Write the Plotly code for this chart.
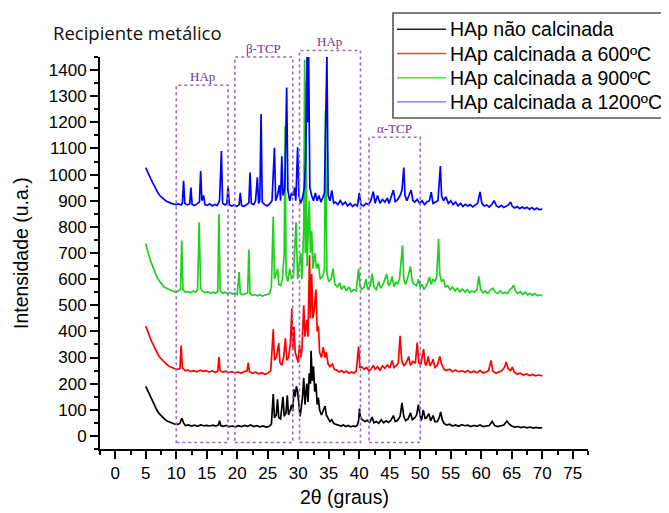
import plotly.graph_objects as go

# ---------------- data ----------------
series_names = ["HAp não calcinada", "HAp calcinada a 600ºC",
                "HAp calcinada a 900ºC", "HAp calcinada a 1200ºC"]

black_pts = [
    (5.0, 190), (5.3, 175), (5.6, 160), (5.9, 140), (6.2, 128), (6.5, 112), (6.8, 100), (7.1, 88),
    (7.4, 80), (7.7, 72), (8.0, 66), (8.3, 60), (8.6, 56), (9.0, 52), (9.4, 48), (9.8, 45),
    (10.2, 44), (10.6, 48), (10.9, 68), (11.2, 50), (11.5, 40), (12.0, 42), (12.5, 38), (13.0, 41),
    (13.5, 37), (14.0, 42), (14.5, 39), (15.0, 40), (15.5, 38), (16.0, 41), (16.5, 38), (16.9, 42),
    (17.1, 58), (17.3, 40), (17.7, 37), (18.2, 40), (18.7, 36), (19.2, 38), (19.7, 35), (20.2, 39),
    (20.7, 36), (21.2, 40), (21.7, 37), (22.2, 42), (22.7, 36), (23.2, 39), (23.7, 35), (24.2, 38),
    (24.7, 34), (25.2, 36), (25.6, 45), (25.9, 160), (26.1, 70), (26.4, 80), (26.6, 140), (26.8, 70),
    (27.1, 65), (27.5, 150), (27.7, 75), (28.0, 90), (28.2, 155), (28.4, 80), (28.7, 100), (28.9, 120),
    (29.1, 95), (29.3, 178), (29.5, 150), (29.7, 190), (29.9, 170), (30.1, 120), (30.3, 75), (30.5, 110),
    (30.7, 150), (30.9, 222), (31.1, 120), (31.4, 200), (31.6, 130), (31.8, 240), (32.0, 200), (32.1, 326),
    (32.3, 210), (32.5, 266), (32.7, 170), (32.9, 200), (33.1, 120), (33.3, 146), (33.5, 100), (33.8, 80),
    (34.1, 100), (34.4, 114), (34.6, 80), (34.9, 65), (35.2, 55), (35.5, 62), (35.8, 48), (36.2, 44),
    (36.6, 40), (37.0, 38), (37.4, 42), (37.8, 36), (38.2, 40), (38.6, 35), (39.0, 38), (39.4, 36),
    (39.7, 42), (39.9, 60), (40.05, 105), (40.2, 70), (40.5, 62), (40.9, 55), (41.3, 60), (41.7, 52),
    (42.1, 72), (42.4, 50), (42.8, 55), (43.2, 48), (43.6, 62), (44.0, 50), (44.4, 58), (44.8, 52),
    (45.2, 60), (45.6, 78), (45.9, 55), (46.3, 60), (46.7, 75), (47.0, 127), (47.3, 75), (47.6, 58),
    (48.0, 65), (48.4, 88), (48.7, 62), (49.1, 70), (49.4, 80), (49.7, 120), (50.0, 75), (50.2, 60),
    (50.5, 100), (50.8, 65), (51.1, 72), (51.4, 85), (51.7, 58), (52.1, 78), (52.4, 55), (52.8, 55),
    (53.1, 70), (53.35, 92), (53.6, 62), (53.9, 48), (54.3, 42), (54.8, 45), (55.3, 38), (55.8, 42),
    (56.3, 37), (56.8, 43), (57.3, 39), (57.8, 41), (58.3, 36), (58.8, 40), (59.3, 37), (59.8, 42),
    (60.3, 36), (60.8, 38), (61.3, 40), (61.8, 55), (62.2, 40), (62.7, 36), (63.2, 38), (63.7, 42),
    (64.2, 57), (64.6, 45), (65.0, 38), (65.5, 34), (66.0, 36), (66.5, 32), (67.0, 35), (67.5, 31),
    (68.0, 34), (68.5, 30), (69.0, 33), (69.5, 30), (70.0, 32),
]

red_pts = [
    (5.0, 420), (5.3, 400), (5.6, 385), (5.9, 365), (6.2, 350), (6.5, 335), (6.8, 320), (7.1, 308),
    (7.4, 298), (7.7, 290), (8.0, 282), (8.3, 276), (8.6, 270), (9.0, 265), (9.4, 260), (9.8, 257),
    (10.2, 255), (10.6, 258), (10.8, 346), (11.0, 262), (11.4, 250), (11.9, 252), (12.4, 246), (12.9, 250),
    (13.4, 245), (13.9, 252), (14.4, 247), (14.9, 250), (15.4, 244), (15.9, 249), (16.4, 243), (16.8, 248),
    (17.0, 302), (17.2, 250), (17.6, 244), (18.1, 248), (18.6, 242), (19.1, 246), (19.6, 241), (20.1, 245),
    (20.6, 240), (21.1, 246), (21.6, 248), (21.8, 281), (22.0, 246), (22.5, 240), (23.0, 244), (23.5, 238),
    (24.0, 242), (24.5, 236), (25.0, 240), (25.5, 250), (25.9, 408), (26.1, 290), (26.4, 300), (26.8, 355),
    (27.0, 280), (27.3, 270), (27.6, 300), (27.9, 374), (28.1, 290), (28.4, 300), (28.7, 350), (28.95, 488),
    (29.1, 330), (29.3, 418), (29.5, 320), (29.8, 300), (30.0, 280), (30.2, 350), (30.4, 300), (30.6, 330),
    (30.9, 500), (31.1, 380), (31.4, 444), (31.6, 380), (31.85, 691), (32.0, 450), (32.2, 620), (32.4, 450),
    (32.6, 480), (32.9, 560), (33.1, 400), (33.3, 420), (33.5, 320), (33.8, 300), (34.1, 340), (34.4, 300),
    (34.6, 320), (34.9, 275), (35.2, 265), (35.6, 275), (35.9, 255), (36.3, 252), (36.7, 245), (37.1, 250),
    (37.5, 242), (37.9, 248), (38.3, 240), (38.7, 245), (39.1, 240), (39.5, 248), (39.9, 342), (40.1, 260),
    (40.4, 265), (40.8, 255), (41.2, 262), (41.6, 248), (42.0, 258), (42.3, 270), (42.6, 255), (43.0, 265),
    (43.4, 252), (43.8, 268), (44.2, 258), (44.6, 272), (45.0, 260), (45.4, 289), (45.7, 262), (46.1, 270),
    (46.4, 280), (46.7, 383), (46.95, 290), (47.3, 268), (47.7, 280), (48.1, 304), (48.4, 270), (48.8, 285),
    (49.2, 278), (49.5, 357), (49.75, 280), (50.1, 275), (50.55, 332), (50.8, 275), (51.0, 270), (51.3, 304),
    (51.6, 268), (51.9, 280), (52.1, 293), (52.4, 262), (52.8, 270), (53.2, 304), (53.5, 275), (53.9, 255),
    (54.3, 250), (54.8, 255), (55.3, 246), (55.8, 252), (56.3, 245), (56.8, 250), (57.3, 244), (57.8, 250),
    (58.3, 243), (58.8, 248), (59.3, 242), (59.8, 250), (60.3, 241), (60.8, 245), (61.2, 250), (61.6, 289),
    (61.9, 248), (62.4, 240), (62.9, 244), (63.4, 250), (63.8, 262), (64.1, 283), (64.4, 258), (64.8, 250),
    (65.1, 264), (65.4, 245), (65.9, 236), (66.4, 240), (66.9, 233), (67.4, 237), (67.9, 231), (68.4, 235),
    (68.9, 230), (69.4, 233), (70.0, 230),
]

green_pts = [
    (5.0, 736), (5.2, 715), (5.5, 690), (5.8, 670), (6.1, 650), (6.4, 630), (6.7, 615), (7.0, 600),
    (7.3, 590), (7.6, 580), (8.0, 570), (8.4, 565), (8.8, 560), (9.2, 556), (9.6, 553), (10.0, 550),
    (10.4, 555), (10.7, 560), (10.9, 748), (11.1, 560), (11.5, 550), (12.0, 552), (12.4, 548), (12.8, 555),
    (13.2, 550), (13.5, 560), (13.75, 818), (14.0, 565), (14.3, 555), (14.7, 548), (15.2, 552), (15.6, 545),
    (16.0, 550), (16.4, 546), (16.8, 552), (17.0, 849), (17.2, 555), (17.6, 546), (18.0, 550), (18.4, 545),
    (18.8, 548), (19.2, 543), (19.6, 547), (20.0, 542), (20.3, 627), (20.5, 545), (20.9, 540), (21.3, 543),
    (21.7, 548), (21.9, 712), (22.1, 545), (22.5, 538), (22.9, 541), (23.3, 536), (23.7, 540), (24.1, 535),
    (24.5, 538), (24.9, 540), (25.3, 545), (25.6, 570), (25.9, 839), (26.1, 600), (26.4, 620), (26.6, 640),
    (26.8, 580), (27.1, 575), (27.4, 600), (27.7, 700), (27.85, 1185), (28.0, 620), (28.3, 590), (28.6, 640),
    (28.9, 600), (29.2, 610), (29.65, 818), (29.9, 600), (30.1, 650), (30.4, 700), (30.6, 600), (30.9, 800),
    (31.05, 1440), (31.15, 700), (31.25, 1356), (31.45, 650), (31.8, 900), (32.0, 700), (32.2, 785), (32.4, 640),
    (32.7, 700), (33.0, 640), (33.3, 660), (33.6, 600), (34.0, 610), (34.3, 640), (34.45, 1245), (34.7, 620),
    (35.0, 590), (35.4, 600), (35.7, 640), (36.0, 580), (36.4, 570), (36.8, 585), (37.1, 560), (37.5, 575),
    (37.9, 555), (38.3, 570), (38.7, 552), (39.1, 560), (39.5, 555), (39.9, 640), (40.1, 575), (40.4, 560),
    (40.8, 570), (41.1, 600), (41.4, 560), (41.8, 575), (42.1, 620), (42.4, 570), (42.8, 560), (43.2, 590),
    (43.5, 565), (43.9, 580), (44.2, 600), (44.5, 620), (44.8, 575), (45.1, 585), (45.4, 610), (45.7, 570),
    (46.0, 590), (46.3, 580), (46.6, 600), (46.85, 660), (47.1, 729), (47.3, 600), (47.6, 580), (48.0, 610),
    (48.4, 649), (48.7, 590), (49.0, 580), (49.4, 575), (49.7, 600), (50.0, 570), (50.3, 580), (50.6, 560),
    (51.0, 575), (51.2, 585), (51.5, 608), (51.8, 580), (52.1, 600), (52.4, 590), (52.7, 610), (53.0, 754),
    (53.2, 620), (53.5, 590), (53.8, 600), (54.1, 570), (54.5, 575), (54.9, 560), (55.3, 570), (55.7, 555),
    (56.1, 565), (56.5, 552), (56.9, 562), (57.3, 550), (57.7, 560), (58.1, 548), (58.5, 555), (58.9, 550),
    (59.3, 560), (59.6, 611), (59.9, 560), (60.3, 548), (60.7, 555), (61.1, 545), (61.5, 558), (61.9, 565),
    (62.3, 550), (62.7, 545), (63.1, 555), (63.5, 545), (63.9, 550), (64.3, 545), (64.7, 560), (65.0, 565),
    (65.3, 577), (65.6, 555), (66.0, 545), (66.4, 552), (66.8, 542), (67.2, 550), (67.6, 540), (68.0, 546),
    (68.4, 538), (68.8, 545), (69.2, 536), (69.6, 540), (70.0, 536),
]

blue_pts = [
    (5.0, 1027), (5.2, 1015), (5.5, 1000), (5.8, 985), (6.1, 970), (6.4, 955), (6.7, 942), (7.0, 930),
    (7.3, 920), (7.6, 912), (8.0, 905), (8.4, 898), (8.8, 893), (9.2, 890), (9.6, 887), (10.0, 885),
    (10.4, 888), (10.8, 884), (11.0, 890), (11.2, 976), (11.4, 890), (11.8, 884), (12.2, 888), (12.4, 950),
    (12.6, 886), (13.0, 882), (13.4, 888), (13.8, 895), (14.0, 1014), (14.2, 900), (14.5, 920), (14.7, 885),
    (15.1, 882), (15.5, 888), (15.9, 880), (16.3, 886), (16.7, 882), (17.1, 900), (17.4, 1090), (17.6, 890),
    (18.0, 884), (18.3, 890), (18.5, 955), (18.7, 885), (19.1, 880), (19.5, 884), (19.9, 878), (20.3, 885),
    (20.5, 930), (20.7, 882), (21.1, 878), (21.5, 885), (21.9, 892), (22.1, 1008), (22.3, 890), (22.7, 885),
    (23.0, 900), (23.3, 990), (23.5, 890), (23.7, 900), (23.9, 1232), (24.1, 895), (24.5, 885), (24.9, 880),
    (25.3, 888), (25.7, 900), (26.1, 1103), (26.3, 900), (26.6, 920), (26.9, 960), (27.1, 900), (27.3, 1070),
    (27.5, 920), (27.8, 950), (28.1, 1333), (28.3, 940), (28.6, 900), (28.9, 930), (29.2, 920), (29.4, 950),
    (29.6, 900), (29.9, 1105), (30.1, 920), (30.4, 890), (30.7, 910), (31.0, 950), (31.2, 1050), (31.45, 1460),
    (31.55, 1200), (31.7, 1460), (31.9, 950), (32.2, 920), (32.5, 900), (32.8, 930), (33.1, 900), (33.4, 920),
    (33.7, 895), (34.0, 910), (34.3, 930), (34.55, 1268), (34.7, 1460), (34.9, 920), (35.2, 900), (35.5, 940),
    (35.8, 890), (36.1, 895), (36.5, 885), (36.9, 900), (37.3, 885), (37.7, 895), (38.1, 880), (38.5, 890),
    (38.9, 878), (39.3, 886), (39.7, 880), (40.0, 930), (40.3, 885), (40.7, 880), (41.1, 890), (41.5, 885),
    (41.9, 900), (42.3, 935), (42.6, 890), (43.0, 920), (43.4, 890), (43.8, 905), (44.2, 895), (44.6, 910),
    (44.9, 890), (45.3, 920), (45.6, 941), (45.9, 895), (46.3, 905), (46.7, 920), (47.0, 940), (47.3, 1027),
    (47.5, 920), (47.8, 900), (48.2, 920), (48.5, 941), (48.8, 900), (49.1, 895), (49.5, 905), (49.9, 890),
    (50.3, 900), (50.7, 885), (51.1, 895), (51.5, 900), (51.8, 933), (52.1, 890), (52.5, 895), (52.9, 900),
    (53.3, 1033), (53.5, 920), (53.8, 900), (54.2, 915), (54.6, 890), (55.0, 900), (55.4, 885), (55.8, 895),
    (56.2, 880), (56.6, 890), (57.0, 878), (57.4, 886), (57.8, 880), (58.2, 885), (58.6, 876), (59.0, 882),
    (59.4, 890), (59.8, 934), (60.1, 890), (60.5, 880), (60.9, 884), (61.3, 876), (61.7, 885), (62.1, 900),
    (62.5, 880), (62.9, 875), (63.3, 882), (63.7, 874), (64.1, 880), (64.5, 885), (64.8, 895), (65.1, 878),
    (65.5, 872), (65.9, 878), (66.3, 870), (66.7, 876), (67.1, 870), (67.5, 875), (67.9, 868), (68.3, 874),
    (68.7, 866), (69.1, 872), (69.5, 866), (70.0, 868),
]

# phase boxes: label, 2θ start, 2θ end, top (intensity units)
box_labels = ["HAp", "β-TCP", "HAp", "α-TCP"]
box_x0 = [10.0, 19.6, 30.2, 41.6]
box_x1 = [18.5, 29.1, 40.2, 50.0]
box_top = [1342, 1450, 1475, 1143]
box_bottom = -25

x_ticks = list(range(0, 80, 5))
y_ticks = list(range(0, 1500, 100))

# ---------------- styling ----------------
line_colors = ["#000000", "#ff0000", "#1fd01f", "#0000ff"]
legend_colors = ["#222222", "#ff3b3b", "#3ee83e", "#7070ff"]
XR = [-2.5, 77.5]
YR = [-50, 1450]
tick_font = dict(family="Liberation Sans, Arial, sans-serif", size=17, color="#000")
box_line = "#9a6ad0"
box_text = "#6b3496"

# the page body adds an 8px offset; plot area on screen spans x 100..588, y 57..449
OFF = 8
PL, PR, PT, PB = 100, 588, 57, 449
W, H = 669, 513

fig = go.Figure()
all_pts = [black_pts, red_pts, green_pts, blue_pts]
for name, pts, col in zip(series_names, all_pts, line_colors):
    xs = [p[0] for p in pts]
    ys = [p[1] for p in pts]
    fig.add_trace(go.Scatter(x=xs, y=ys, mode="lines", name=name,
                             line=dict(color=col, width=1.7), showlegend=False))


def ypaper(v):
    return (v - YR[0]) / (YR[1] - YR[0])


def px_x(px):
    return (px - PL) / (PR - PL)


def px_y(py):
    return (PB - py) / (PB - PT)


shapes = []
annotations = []
for lab, x0, x1, top in zip(box_labels, box_x0, box_x1, box_top):
    shapes.append(dict(type="rect", xref="x", yref="paper", x0=x0, x1=x1,
                       y0=ypaper(box_bottom), y1=ypaper(top),
                       line=dict(color=box_line, width=1.6, dash="dot"), layer="above"))
    annotations.append(dict(xref="x", yref="paper", x=(x0 + x1) / 2, y=ypaper(top),
                            yanchor="bottom", xanchor="center", yshift=-1, showarrow=False,
                            text=lab, font=dict(family="Liberation Serif, Times New Roman, serif",
                                                size=13, color=box_text)))

# manual legend
shapes.append(dict(type="rect", xref="paper", yref="paper", x0=px_x(393), x1=px_x(672),
                   y0=px_y(118), y1=px_y(13), line=dict(color="#555555", width=1.6),
                   fillcolor="white", layer="above"))
rows = [29.3, 53.5, 77.7, 101.9]
for name, col, ry in zip(series_names, legend_colors, rows):
    shapes.append(dict(type="line", xref="paper", yref="paper", x0=px_x(397), x1=px_x(446),
                       y0=px_y(ry), y1=px_y(ry), line=dict(color=col, width=1.4), layer="above"))
    annotations.append(dict(xref="paper", yref="paper", x=px_x(448), y=px_y(ry),
                            xanchor="left", yanchor="middle", showarrow=False, text=name,
                            font=dict(family="Liberation Sans, Arial, sans-serif", size=19.5, color="#000")))

# titles
annotations.append(dict(xref="paper", yref="paper", x=px_x(51), y=px_y(33), xanchor="left",
                        yanchor="middle", showarrow=False, text="Recipiente metálico",
                        font=dict(family="Open Sans, Noto Sans, sans-serif", size=18.5, color="#111")))
annotations.append(dict(xref="paper", yref="paper", x=0.5, y=px_y(497), xanchor="center",
                        yanchor="middle", showarrow=False, text="2θ (graus)",
                        font=dict(family="Liberation Sans, Arial, sans-serif", size=19.5, color="#000")))
annotations.append(dict(xref="paper", yref="paper", x=px_x(21), y=0.5, xanchor="center",
                        yanchor="middle", showarrow=False, text="Intensidade (u.a.)", textangle=-90,
                        font=dict(family="Liberation Sans, Arial, sans-serif", size=19.5, color="#000")))

fig.update_layout(
    width=W, height=H,
    margin=dict(l=PL - OFF, r=W - (PR - OFF), t=PT - OFF, b=H - (PB - OFF), autoexpand=False),
    paper_bgcolor="white", plot_bgcolor="white",
    shapes=shapes, annotations=annotations, showlegend=False,
)
fig.update_xaxes(range=XR, tickvals=x_ticks, ticks="outside", ticklen=8, tickwidth=2,
                 tickcolor="#000", showline=True, linecolor="#000", linewidth=2,
                 showgrid=False, zeroline=False, tickfont=tick_font,
                 minor=dict(dtick=2.5, tick0=0, ticks="outside", ticklen=4, tickwidth=1.5, tickcolor="#000"))
fig.update_yaxes(range=YR, tickvals=y_ticks, ticks="outside", ticklen=8, tickwidth=2,
                 tickcolor="#000", showline=True, linecolor="#000", linewidth=2,
                 showgrid=False, zeroline=False, tickfont=tick_font,
                 minor=dict(dtick=50, tick0=0, ticks="outside", ticklen=4, tickwidth=1.5, tickcolor="#000"))

fig.write_html("out.html")
